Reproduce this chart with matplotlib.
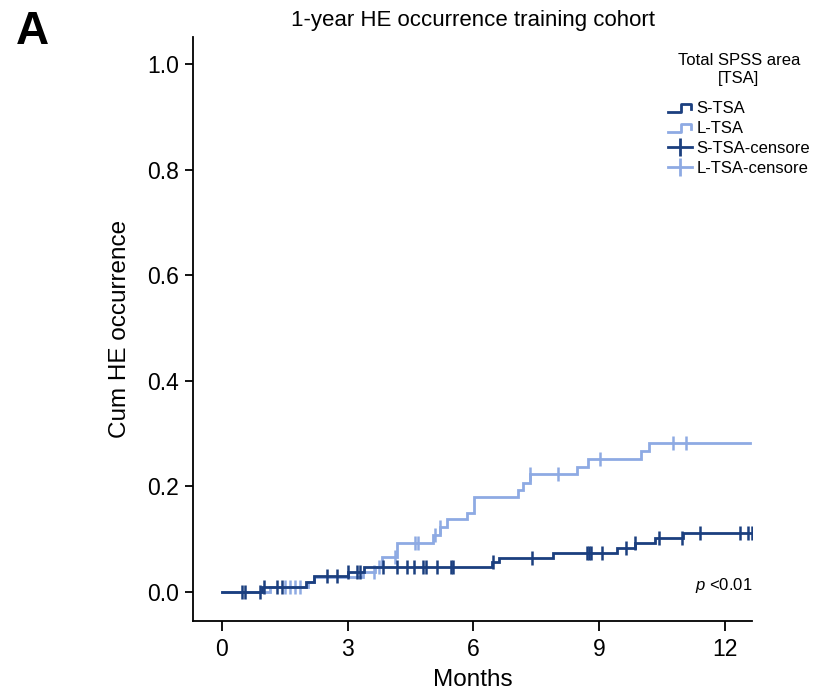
import numpy as np
import matplotlib
matplotlib.use("Agg")
import matplotlib.pyplot as plt
from matplotlib.lines import Line2D
from matplotlib.legend_handler import HandlerBase

plt.rcParams['font.family'] = ['Liberation Sans', 'DejaVu Sans']
plt.rcParams['mathtext.fontset'] = 'custom'
plt.rcParams['mathtext.it'] = 'Liberation Sans:italic'
plt.rcParams['mathtext.rm'] = 'Liberation Sans'

# ---- data ----
s_times = [0.0, 0.95, 2.0, 2.2, 3.0, 3.4, 6.45, 6.62, 7.9, 9.43, 9.86, 10.33, 11.0]
s_cum = [0.0, 0.009, 0.018, 0.030, 0.038, 0.047, 0.056, 0.065, 0.074, 0.084, 0.093, 0.102, 0.112]
s_end = 12.65
s_censor = [0.48, 0.55, 0.9, 1.0, 1.31, 1.43, 2.5, 2.75, 3.0, 3.22, 3.3, 3.84, 4.18, 4.42,
            4.58, 4.8, 4.87, 5.13, 5.47, 5.51, 6.47, 7.4, 8.7, 8.75, 8.8, 9.07, 9.64,
            9.86, 10.43, 10.98, 11.4, 12.36, 12.55, 12.65]

l_times = [0.0, 1.15, 2.05, 2.2, 3.37, 3.65, 3.82, 4.18, 5.04, 5.2, 5.37, 5.85, 6.02,
           7.06, 7.18, 7.35, 8.47, 8.73, 10.0, 10.2]
l_cum = [0.0, 0.009, 0.019, 0.028, 0.038, 0.047, 0.066, 0.093, 0.108, 0.123, 0.138, 0.150,
         0.180, 0.193, 0.206, 0.223, 0.237, 0.252, 0.266, 0.283]
l_end = 12.6
l_censor = [1.5, 1.62, 1.74, 1.86, 3.62, 3.75, 4.13, 4.6, 4.68, 5.08, 5.2, 7.35, 8.02,
            9.02, 10.76, 11.07]

x_ticks = [0, 3, 6, 9, 12]
y_ticks = [0.0, 0.2, 0.4, 0.6, 0.8, 1.0]

dark = "#1b3f7f"
light = "#8eaae3"

fig = plt.figure(figsize=(8.15, 6.94), dpi=100)
ax = fig.add_axes([0.2368, 0.1052, 0.686, 0.8415])


def draw(times, cum, end, cens, color, z):
    t = np.array(times + [end])
    y = np.array(cum + [cum[-1]])
    ax.step(t, y, where='post', color=color, lw=2.0, zorder=z, solid_joinstyle='miter')
    ct = np.array(cens)
    idx = np.searchsorted(np.array(times), ct, side='right') - 1
    cy = np.array(cum)[idx]
    ax.plot(ct, cy, linestyle='none', marker='|', markersize=10, mew=1.8,
            color=color, zorder=z)


draw(l_times, l_cum, l_end, l_censor, light, 2)
draw(s_times, s_cum, s_end, s_censor, dark, 3)

ax.set_xlim(-0.69, 12.65)
ax.set_ylim(-0.055, 1.051)
ax.set_xticks(x_ticks)
ax.set_xticklabels([str(v) for v in x_ticks])
ax.set_yticks(y_ticks)
ax.set_yticklabels([f"{v:.1f}" for v in y_ticks])
for s in ['top', 'right']:
    ax.spines[s].set_visible(False)
for s in ['left', 'bottom']:
    ax.spines[s].set_linewidth(1.3)
ax.tick_params(axis='both', labelsize=16.5, width=1.3, length=6, pad=4)
ax.tick_params(axis='x', length=7, pad=5)

ax.set_xlabel("Months", fontsize=17.5, labelpad=6)
ax.set_ylabel("Cum HE occurrence", fontsize=17.5, labelpad=12)
ax.set_title("1-year HE occurrence training cohort", fontsize=16, pad=8)

fig.text(0.02, 0.985, "A", fontsize=33, fontweight='bold', va='top', ha='left')

ax.text(12.65, 0.013, r"$p$ <0.01", fontsize=12, ha='right', va='center')


class StepHandler(HandlerBase):
    def create_artists(self, legend, orig_handle, xdescent, ydescent, width, height,
                       fontsize, trans):
        x0 = -xdescent
        y0 = -ydescent
        xs = [x0, x0 + width * 0.55, x0 + width * 0.55, x0 + width * 0.95, x0 + width * 0.95]
        ys = [y0 + height * 0.1, y0 + height * 0.1, y0 + height * 0.8, y0 + height * 0.8,
              y0 + height * 0.4]
        ln = Line2D(xs, ys, color=orig_handle.get_color(), lw=2.0, transform=trans)
        return [ln]


h1 = Line2D([], [], color=dark)
h2 = Line2D([], [], color=light)
h3 = Line2D([], [], color=dark, lw=2.0, marker='|', markersize=13, mew=2.0)
h4 = Line2D([], [], color=light, lw=2.0, marker='|', markersize=13, mew=2.0)
leg = ax.legend([h1, h2, h3, h4], ["S-TSA", "L-TSA", "S-TSA-censore", "L-TSA-censore"],
                handler_map={h1: StepHandler(), h2: StepHandler()},
                title="Total SPSS area\n[TSA]", title_fontsize=12, fontsize=12,
                loc='upper left', bbox_to_anchor=(668 / 815, 1 - 53 / 694),
                bbox_transform=fig.transFigure, frameon=False, borderpad=0,
                handlelength=1.45, handletextpad=0.25, labelspacing=0.30,
                borderaxespad=0)
leg._legend_box.align = "center"
leg.get_title().set_multialignment('center')
leg.get_title().set_linespacing(1.25)
leg._legend_box.sep = 11

fig.savefig("out.png", dpi=100)
